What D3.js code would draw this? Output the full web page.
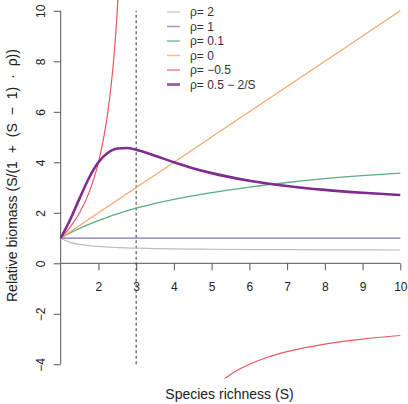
<!DOCTYPE html>
<html>
<head>
<meta charset="utf-8">
<script src="https://cdn.jsdelivr.net/npm/d3@7"></script>
<style>
  body { margin: 0; background: #fff; }
  svg { font-family: "Liberation Sans", Arial, sans-serif; }
</style>
</head>
<body>
<div class="container"></div>
<script>
// Frame
const width = 408;
const height = 404;

// Species richness grid (x values)
const richness = [1, 1.25, 1.5, 1.75, 2, 2.25, 2.5, 2.75, 3, 3.5, 4, 4.5, 5, 6, 7, 8, 9, 10];
// Relative biomass for each curve
const rhoTwo = [1, 0.83, 0.75, 0.7, 0.667, 0.643, 0.625, 0.611, 0.6, 0.583, 0.571, 0.563, 0.556, 0.545, 0.538, 0.533, 0.529, 0.526];
const rhoOne = [1, 1, 1, 1, 1, 1, 1, 1, 1, 1, 1, 1, 1, 1, 1, 1, 1, 1];
const rhoTenth = [1, 1.2, 1.38, 1.54, 1.69, 1.83, 1.96, 2.08, 2.19, 2.37, 2.53, 2.67, 2.8, 3.02, 3.2, 3.35, 3.47, 3.57];
const rhoZero = [1, 1.25, 1.5, 1.75, 2, 2.25, 2.5, 2.75, 3, 3.5, 4, 4.5, 5, 6, 7, 8, 9, 10];
const rhoVar = [1, 1.724, 2.571, 3.379, 4.0, 4.378, 4.545, 4.566, 4.5, 4.261, 4.0, 3.767, 3.571, 3.273, 3.063, 2.909, 2.793, 2.703];
// rho = -0.5 has a pole at S = 3, two branches
const negLeftS = [1, 1.25, 1.5, 1.75, 2, 2.25, 2.4, 2.5, 2.6];
const negLeft = [1, 1.43, 2, 2.8, 4, 6, 8, 10, 13];
const negRightS = [5.25, 5.5, 6, 6.5, 7, 8, 9, 10];
const negRight = [-4.67, -4.4, -4, -3.71, -3.5, -3.2, -3, -2.86];

const legendLabels = ['ρ= 2', 'ρ= 1', 'ρ= 0.1', 'ρ= 0', 'ρ= −0.5', 'ρ= 0.5 − 2/S'];
const colors = ['#bdbdbd', '#7a74b6', '#5aad86', '#f3a76e', '#e6595f', '#7e2c8f'];
const widths = [1.2, 1.2, 1.3, 1.2, 1.2, 2.6];

const xTicks = [2, 3, 4, 5, 6, 7, 8, 9, 10];
const yTicks = [-4, -2, 0, 2, 4, 6, 8, 10];
const cutoff = 3;

const x = d3.scaleLinear().domain([1, 10]).range([60.7, 400.3]);
const y = d3.scaleLinear().domain([0, 10]).range([263.3, 10.8]);

const svg = d3.select('.container')
  .append('svg')
  .attr('width', width)
  .attr('height', height);

// plot region like R's usr (4% padding)
svg.append('clipPath').attr('id', 'plotclip')
  .append('rect')
  .attr('x', x(0.64))
  .attr('y', y(10.56))
  .attr('width', x(10.36) - x(0.64))
  .attr('height', y(-4.56) - y(10.56));

const axisColor = '#555';

// y axis
const yAxis = svg.append('g').attr('transform', `translate(${x(1)},0)`)
  .call(d3.axisLeft(y).tickValues(yTicks).tickSize(7).tickSizeOuter(0).tickFormat(d => d < 0 ? '−' + Math.abs(d) : d));
yAxis.select('.domain').attr('stroke', axisColor).attr('d', `M0,${y(-4)}V${y(10)}`);
yAxis.selectAll('.tick line').attr('stroke', axisColor);
yAxis.selectAll('.tick text')
  .attr('fill', '#222')
  .attr('font-size', 12)
  .attr('text-anchor', 'middle')
  .attr('dy', null)
  .attr('x', null)
  .attr('transform', 'translate(-15.7,0) rotate(-90)');

// x axis along y = 0
const xAxis = svg.append('g').attr('transform', `translate(0,${y(0)})`)
  .call(d3.axisBottom(x).tickValues(xTicks).tickSize(7).tickSizeOuter(0));
xAxis.select('.domain').attr('stroke', axisColor).attr('d', `M${x(1)},0H${x(10)}`);
xAxis.selectAll('.tick line').attr('stroke', axisColor);
xAxis.selectAll('.tick text')
  .attr('fill', '#222')
  .attr('font-size', 12)
  .attr('y', 27.4)
  .attr('dy', null);

// dashed line at S = 3
svg.append('line')
  .attr('x1', x(cutoff)).attr('x2', x(cutoff))
  .attr('y1', y(-4)).attr('y2', y(10))
  .attr('stroke', '#555')
  .attr('stroke-width', 1.2)
  .attr('stroke-dasharray', '3,2.5');

const line = d3.line()
  .x(d => x(d[0]))
  .y(d => y(d[1]))
  .curve(d3.curveMonotoneX);

const series = [
  { xs: richness, ys: rhoTwo, k: 0 },
  { xs: richness, ys: rhoOne, k: 1 },
  { xs: richness, ys: rhoTenth, k: 2 },
  { xs: richness, ys: rhoZero, k: 3 },
  { xs: negLeftS, ys: negLeft, k: 4 },
  { xs: negRightS, ys: negRight, k: 4 },
  { xs: richness, ys: rhoVar, k: 5 },
];

svg.append('g')
  .attr('clip-path', 'url(#plotclip)')
  .selectAll('path')
  .data(series)
  .enter()
  .append('path')
  .attr('d', d => line(d.xs.map((s, i) => [s, d.ys[i]])))
  .attr('fill', 'none')
  .attr('stroke', d => colors[d.k])
  .attr('stroke-width', d => widths[d.k]);

// legend
const legend = svg.append('g').attr('transform', 'translate(167,12)');
const rows = legend.selectAll('g')
  .data(legendLabels)
  .enter()
  .append('g')
  .attr('transform', (d, i) => `translate(0,${i * 14.5})`);
rows.append('line')
  .attr('x1', 0).attr('x2', 13)
  .attr('stroke', (d, i) => colors[i])
  .attr('stroke-opacity', 0.75)
  .attr('stroke-width', (d, i) => widths[i] + 0.3);
rows.append('text')
  .attr('x', 23)
  .attr('dy', '0.35em')
  .attr('font-size', 12)
  .attr('fill', '#333')
  .text(d => d);

// axis titles
svg.append('text')
  .attr('x', 229.5)
  .attr('y', 399)
  .attr('text-anchor', 'middle')
  .attr('font-size', 14)
  .attr('fill', '#222')
  .text('Species richness (S)');

const ylab = svg.append('text')
  .attr('transform', 'translate(17,302) rotate(-90)')
  .attr('text-anchor', 'start')
  .attr('font-size', 14)
  .attr('fill', '#222');
ylab.append('tspan').text('Relative biomass ');
ylab.append('tspan').attr('word-spacing', 4).text('(S/(1 + (S − 1) · ρ))');
</script>
</body>
</html>
